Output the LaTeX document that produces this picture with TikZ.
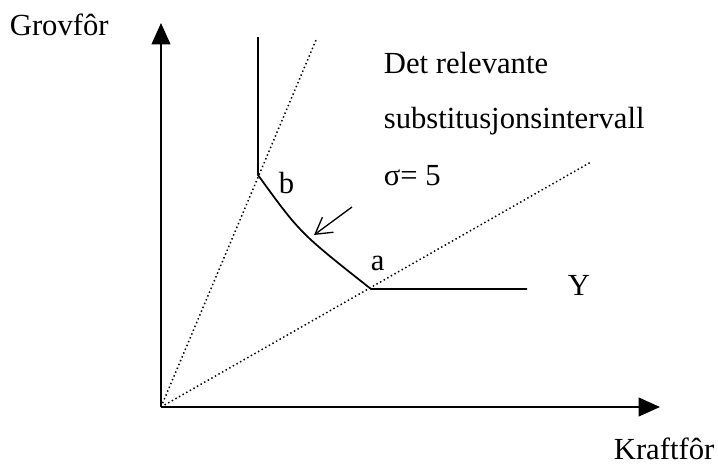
\documentclass[tikz,border=0pt]{standalone}
\usepackage{fontspec}
\setmainfont{Liberation Serif}
\usetikzlibrary{arrows.meta}

\begin{document}
\begin{tikzpicture}[x=0.75pt, y=-0.75pt, line width=1.3pt, line cap=butt,
    font=\fontsize{23}{27}\selectfont,
    lbl/.style={anchor=base west, inner sep=0pt},
    axis/.style={line width=1.5pt, -{Triangle[length=16pt, width=14pt]}},
    ray/.style={dotted, line width=1.1pt}]
  % page frame, 718 x 469 px
  \useasboundingbox (0,0) rectangle (718,469);

  % Axes
  \coordinate (O) at (161,407);
  \coordinate (ytop) at (161,23);
  \coordinate (xend) at (660,407);
  \draw[axis] (O) -- (ytop);
  \draw[axis] (O) -- (xend);
  \node[lbl] (grov) at (9,35) {Grovfôr};
  \node[lbl] (kraft) at (613,459) {Kraftfôr};

  % Rays through b and a
  \coordinate (rb) at (316,40);
  \coordinate (ra) at (591,162);
  \draw[ray] (O) -- (rb);
  \draw[ray] (O) -- (ra);

  % Isoquant Y
  \coordinate (top) at (258,37);
  \coordinate (b) at (258,175);
  \coordinate (a) at (371,289);
  \coordinate (right) at (527,289);
  \draw (top) -- (b) .. controls (300,233) .. (a) -- (right);
  \node[lbl] (lb) at (278,193) {b};
  \node[lbl] (la) at (370,270) {a};
  \node[lbl] (ly) at (567,295) {Y};

  % Pointer to the relevant part
  \coordinate (p) at (352,207);
  \coordinate (q) at (314,235);
  \draw[line width=1pt, -{Straight Barb[length=12pt, width=14pt]}] (p) -- (q);
  \node[lbl] (t1) at (383,73) {Det relevante};
  \node[lbl] (t2) at (383,128) {substitusjonsintervall};
  \node[lbl] (t3) at (383,185) {σ= 5};
\end{tikzpicture}
\end{document}
